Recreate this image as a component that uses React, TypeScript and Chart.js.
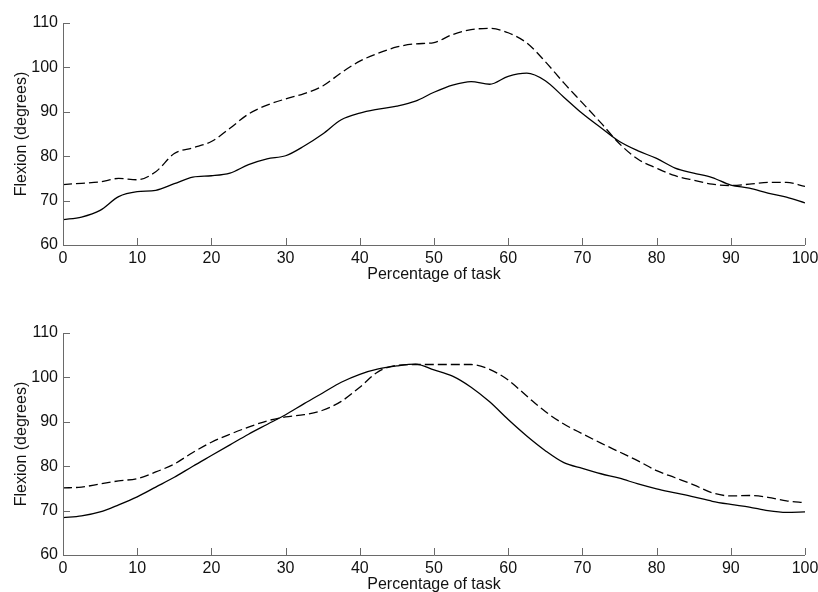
import React, { useEffect, useRef } from "react";
import { Chart, registerables } from "chart.js";

Chart.register(...registerables);

const xValues = [
  0, 2.5, 5, 7.5, 10, 12.5, 15, 17.5, 20, 22.5, 25, 27.5, 30, 32.5, 35, 37.5, 40,
  42.5, 45, 47.5, 50, 52.5, 55, 57.5, 60, 62.5, 65, 67.5, 70, 72.5, 75, 77.5, 80,
  82.5, 85, 87.5, 90, 92.5, 95, 97.5, 100,
];

const topSolid = [
  65.7, 66.3, 67.8, 70.9, 72.0, 72.3, 73.8, 75.3, 75.6, 76.2, 78.1, 79.4, 80.1,
  82.3, 85.0, 88.2, 89.7, 90.6, 91.3, 92.4, 94.4, 96.0, 96.8, 96.2, 98.0, 98.7,
  97.0, 93.3, 89.6, 86.4, 83.3, 81.2, 79.5, 77.3, 76.2, 75.2, 73.5, 72.8, 71.7,
  70.8, 69.5,
];

const topDashed = [
  73.6, 73.9, 74.2, 75.0, 74.7, 76.5, 80.6, 81.9, 83.3, 86.3, 89.5, 91.5, 92.9,
  94.1, 95.8, 98.8, 101.4, 103.2, 104.6, 105.3, 105.6, 107.4, 108.5, 108.8,
  107.8, 105.5, 101.3, 96.5, 92.0, 87.5, 82.8, 79.3, 77.3, 75.6, 74.6, 73.7,
  73.4, 73.7, 74.1, 74.1, 73.2,
];

const bottomSolid = [
  68.4, 68.8, 69.7, 71.3, 73.1, 75.3, 77.5, 80.0, 82.4, 84.8, 87.2, 89.4, 91.6,
  94.1, 96.5, 98.9, 100.7, 101.9, 102.6, 103.0, 101.7, 100.3, 97.8, 94.5, 90.5,
  86.8, 83.5, 80.8, 79.5, 78.3, 77.3, 76.0, 74.9, 74.0, 73.1, 72.1, 71.4, 70.8,
  70.0, 69.6, 69.7,
];

const bottomDashed = [
  75.1, 75.3, 76.0, 76.7, 77.2, 78.7, 80.5, 83.1, 85.4, 87.2, 88.8, 90.2, 91.1,
  91.6, 92.6, 94.6, 97.8, 101.3, 102.7, 102.9, 102.9, 102.9, 102.9, 101.8, 99.4,
  95.8, 92.3, 89.5, 87.3, 85.2, 83.2, 81.2, 79.0, 77.4, 75.8, 74.0, 73.3, 73.4,
  73.0, 72.2, 71.8,
];

const yTicks = [60, 70, 80, 90, 100, 110];
const xTicks = [0, 10, 20, 30, 40, 50, 60, 70, 80, 90, 100];
const xTitle = "Percentage of task";
const yTitle = "Flexion (degrees)";

const FONT = "'Liberation Sans', Arial, Helvetica, sans-serif";
const AXIS_COLOR = "#6a6a6a";

const inwardTicks = {
  id: "inwardTicks",
  afterDraw(chart: any) {
    const { ctx, chartArea, scales } = chart;
    ctx.save();
    ctx.strokeStyle = AXIS_COLOR;
    ctx.lineWidth = 1;
    ctx.beginPath();
    ctx.moveTo(chartArea.left + 0.5, chartArea.top);
    ctx.lineTo(chartArea.left + 0.5, chartArea.bottom + 0.5);
    ctx.lineTo(chartArea.right, chartArea.bottom + 0.5);
    for (const v of yTicks) {
      const py = Math.round(scales.y.getPixelForValue(v)) + 0.5;
      ctx.moveTo(chartArea.left, py);
      ctx.lineTo(chartArea.left + 7, py);
    }
    for (const v of xTicks) {
      const px = Math.round(scales.x.getPixelForValue(v)) + 0.5;
      ctx.moveTo(px, chartArea.bottom);
      ctx.lineTo(px, chartArea.bottom - 7);
    }
    ctx.stroke();
    ctx.restore();
  },
};

function FlexionChart({ solid, dashed }: { solid: number[]; dashed: number[] }) {
  const ref = useRef<HTMLCanvasElement | null>(null);
  useEffect(() => {
    if (!ref.current) return;
    const chart = new Chart(ref.current, {
      type: "line",
      data: {
        datasets: [
          {
            data: xValues.map((x, i) => ({ x, y: solid[i] })),
            borderColor: "#000",
            borderWidth: 1.3,
            pointRadius: 0,
            cubicInterpolationMode: "monotone",
            fill: false,
          },
          {
            data: xValues.map((x, i) => ({ x, y: dashed[i] })),
            borderColor: "#000",
            borderWidth: 1.3,
            borderDash: [9, 4],
            pointRadius: 0,
            cubicInterpolationMode: "monotone",
            fill: false,
          },
        ],
      },
      options: {
        animation: false,
        responsive: false,
        maintainAspectRatio: false,
        devicePixelRatio: 1,
        layout: { padding: { top: 23, right: 0, bottom: 0, left: 0 } },
        plugins: {
          legend: { display: false },
          tooltip: { enabled: false },
        },
        events: [],
        scales: {
          x: {
            type: "linear",
            min: 0,
            max: 100,
            afterBuildTicks: (s: any) => {
              s.ticks = xTicks.map((v) => ({ value: v }));
            },
            afterFit: (s: any) => {
              s.height = 65;
              s.paddingRight = 13;
              s.paddingLeft = 0;
            },
            grid: { display: false, drawTicks: false },
            border: { display: false },
            ticks: {
              padding: 4,
              color: "#111",
              font: { family: FONT, size: 16 },
              maxRotation: 0,
              autoSkip: false,
            },
            title: {
              display: true,
              text: xTitle,
              color: "#111",
              font: { family: FONT, size: 16 },
              padding: { top: 0, bottom: 26 },
            },
          },
          y: {
            type: "linear",
            min: 60,
            max: 110,
            afterBuildTicks: (s: any) => {
              s.ticks = yTicks.map((v) => ({ value: v }));
            },
            afterFit: (s: any) => {
              s.width = 63;
            },
            grid: { display: false, drawTicks: false },
            border: { display: false },
            ticks: {
              padding: 5,
              color: "#111",
              font: { family: FONT, size: 16 },
              autoSkip: false,
            },
            title: {
              display: true,
              text: yTitle,
              color: "#111",
              font: { family: FONT, size: 16 },
              padding: { top: 12, bottom: 0 },
            },
          },
        },
      },
      plugins: [inwardTicks],
    } as any);
    return () => chart.destroy();
  }, [solid, dashed]);
  return <canvas ref={ref} width={818} height={310} style={{ display: "block", width: 818, height: 310 }} />;
}

export default function App() {
  return (
    <div
      style={{
        position: "absolute",
        left: 0,
        top: 0,
        width: 818,
        height: 592,
        overflow: "hidden",
        background: "#fff",
      }}
    >
      <div style={{ position: "absolute", left: 0, top: 0 }}>
        <FlexionChart solid={topSolid} dashed={topDashed} />
      </div>
      <div style={{ position: "absolute", left: 0, top: 310 }}>
        <FlexionChart solid={bottomSolid} dashed={bottomDashed} />
      </div>
    </div>
  );
}
